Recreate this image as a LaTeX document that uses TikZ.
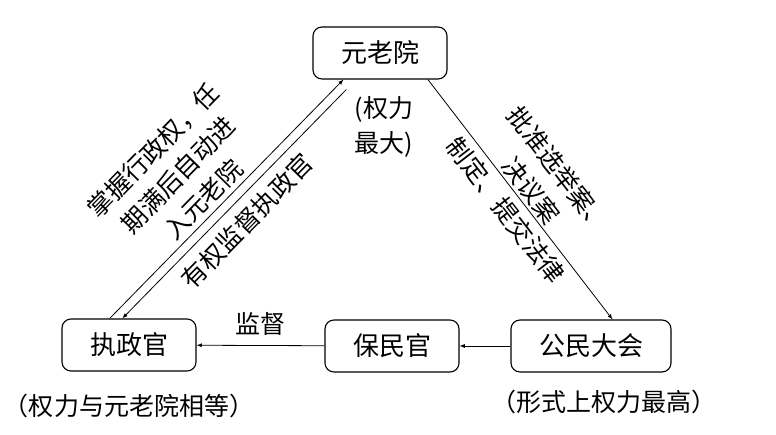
\documentclass[tikz,border=0pt]{standalone}
\usepackage{fontspec}
\setmainfont{Noto Sans CJK SC}
\usetikzlibrary{arrows,positioning}

\begin{document}
\begin{tikzpicture}[>=latex, x=1pt, y=1pt,
  office/.style={draw, line width=1.1pt, rounded corners=9pt,
    minimum height=52pt, inner xsep=28pt, font=\fontsize{26}{34}\selectfont},
  note/.style={inner sep=2pt, font=\fontsize{25}{35}\selectfont},
  link/.style={line width=0.8pt}]

\useasboundingbox (0,0) rectangle (776,435);

% the three bodies and the tribune
\node[office] (senate) at (380,382) {元老院};
\node[office] (consul) at (129,90) {执政官};
\node[office] (tribune) at (392,89) {保民官};
\node[office] (assembly) at (591,89) {公民大会};

\node[note, align=left, below=15pt of senate, xshift=4pt] (senatenote) {(权力\\最大)};
\node[note, below=20pt of consul] (consulnote) {（权力与元老院相等）};
\node[note, below=15pt of assembly, xshift=13pt] (assemblynote) {（形式上权力最高）};

% bottom row
\draw[link,->] (assembly) -- (tribune);
\draw[link,->] (tribune) -- node[note, above, inner sep=10pt] (watch) {监督} (consul);

% senate -> assembly
\draw[link,->] (senate.-29) --
  node[note, sloped, above, align=center] (senatepower) {批准选举案、\\决议案}
  node[note, sloped, below, inner sep=6pt] (senatelaw) {制定、提交法律}
  (assembly.51);

% consul <-> senate
\draw[link,->] (consul.126) --
  node[note, sloped, above, pos=0.45, inner sep=4.5pt, align=center] (consulpower)
    {掌握行政权，任\\期满后自动进\\入元老院}
  (senate.216);
\draw[link,<-, shorten >=14pt] (consul.104) --
  node[note, sloped, below, pos=0.47, inner sep=9pt] (senatewatch) {有权监督执政官}
  (senate.228);

\end{tikzpicture}
\end{document}
